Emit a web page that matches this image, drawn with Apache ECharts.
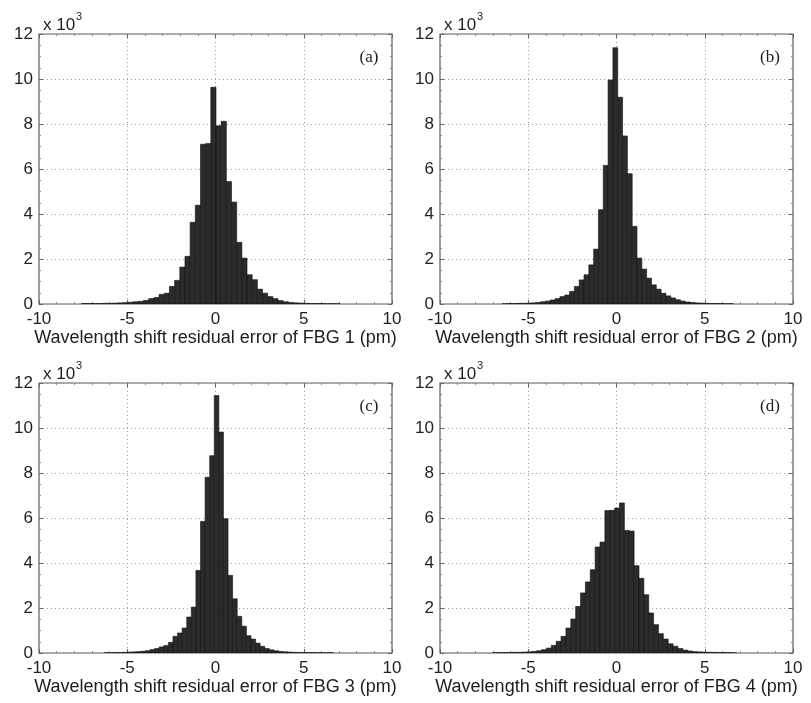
<!DOCTYPE html>
<html>
<head>
<meta charset="utf-8">
<script src="https://cdn.jsdelivr.net/npm/echarts@6/dist/echarts.min.js"></script>
<style>
html, body { margin: 0; padding: 0; background: #fff; }
#main { width: 811px; height: 703px; }
</style>
</head>
<body>
<div id="main"></div>
<script>
// histogram counts, in thousands (the axis reads x 10^3)
var binStartA = -7.59, binWidthA = 0.293;
var countsA = [0.02, 0.02, 0.02, 0.02, 0.03, 0.03, 0.04, 0.05, 0.06, 0.08,
    0.10, 0.12, 0.16, 0.24, 0.29, 0.43, 0.48, 0.78, 1.05, 1.64,
    2.12, 3.63, 4.39, 7.10, 7.13, 9.63, 7.92, 8.12, 5.44, 4.53,
    2.74, 2.04, 1.30, 1.08, 0.66, 0.48, 0.33, 0.24, 0.15, 0.10,
    0.07, 0.05, 0.04, 0.03, 0.02, 0.02, 0.02, 0.01, 0.01, 0.01];

var binStartB = -6.482, binWidthB = 0.273;
var countsB = [0.01, 0.02, 0.02, 0.03, 0.03, 0.04, 0.05, 0.07, 0.10, 0.13,
    0.18, 0.24, 0.33, 0.40, 0.56, 0.78, 1.07, 1.30, 1.74, 2.44,
    4.19, 6.16, 9.96, 11.39, 9.19, 7.47, 5.79, 3.45, 2.04, 1.55,
    1.15, 0.85, 0.66, 0.48, 0.36, 0.27, 0.19, 0.13, 0.09, 0.07,
    0.05, 0.04, 0.03, 0.02, 0.02, 0.02, 0.01, 0.01];

var binStartC = -6.31, binWidthC = 0.26;
var countsC = [0.01, 0.01, 0.02, 0.02, 0.03, 0.04, 0.05, 0.06, 0.08, 0.10,
    0.15, 0.20, 0.27, 0.33, 0.47, 0.74, 0.89, 1.11, 1.60, 2.04,
    3.67, 5.85, 7.81, 8.77, 11.44, 9.82, 5.97, 3.45, 2.41, 1.63,
    1.19, 0.77, 0.62, 0.44, 0.30, 0.20, 0.14, 0.10, 0.07, 0.05,
    0.04, 0.03, 0.02, 0.02, 0.02, 0.02, 0.01, 0.01, 0.01, 0.01];

var binStartD = -7.006, binWidthD = 0.276;
var countsD = [0.01, 0.02, 0.02, 0.02, 0.03, 0.03, 0.04, 0.05, 0.07, 0.10,
    0.15, 0.22, 0.34, 0.52, 0.74, 1.11, 1.51, 2.07, 2.67, 3.16,
    3.70, 4.71, 4.93, 6.33, 6.34, 6.44, 6.67, 5.45, 5.42, 3.88,
    3.32, 2.59, 1.78, 1.26, 0.86, 0.62, 0.41, 0.30, 0.20, 0.13,
    0.09, 0.06, 0.05, 0.04, 0.03, 0.03, 0.02, 0.02, 0.02, 0.01];

var xTicks = [-10, -5, 0, 5, 10];
var yTicks = [0, 2, 4, 6, 8, 10, 12];
var panelTags = ['(a)', '(b)', '(c)', '(d)'];
var xNames = [
    'Wavelength shift residual error of FBG 1 (pm)',
    'Wavelength shift residual error of FBG 2 (pm)',
    'Wavelength shift residual error of FBG 3 (pm)',
    'Wavelength shift residual error of FBG 4 (pm)'
];

var panels = [
    { start: binStartA, width: binWidthA, counts: countsA, left: 39, top: 34 },
    { start: binStartB, width: binWidthB, counts: countsB, left: 440, top: 34 },
    { start: binStartC, width: binWidthC, counts: countsC, left: 39, top: 383 },
    { start: binStartD, width: binWidthD, counts: countsD, left: 440, top: 383 }
];

var sans = '"Liberation Sans", Arial, sans-serif';
var serif = '"Liberation Serif", "Times New Roman", serif';
var textColor = '#1e1e1e';
var plotW = 353, plotH = 270;

function binsOf(p) {
    return p.counts.map(function (c, i) {
        var lo = p.start + i * p.width;
        return [lo, lo + p.width, c];
    });
}

function renderBar(params, api) {
    var top = api.coord([api.value(0), api.value(2)]);
    var base = api.coord([api.value(1), 0]);
    return {
        type: 'rect',
        shape: { x: top[0], y: top[1], width: base[0] - top[0], height: base[1] - top[1] },
        style: { fill: '#2b2b2b', stroke: '#111', lineWidth: 0.6 }
    };
}

var grids = [], xAxes = [], yAxes = [], series = [], texts = [];

panels.forEach(function (p, i) {
    grids.push({
        left: p.left, top: p.top, width: plotW, height: plotH,
        show: true, borderColor: '#5e5e5e', borderWidth: 1.2, backgroundColor: '#fff'
    });

    var tick = { show: true, inside: true, length: 4, lineStyle: { color: '#666' } };
    var minor = { show: true, length: 2, lineStyle: { color: '#888' } };

    xAxes.push({
        gridIndex: i, type: 'value', position: 'bottom',
        min: xTicks[0], max: xTicks[xTicks.length - 1], interval: 5,
        axisLine: { show: false, onZero: false },
        axisTick: tick,
        minorTick: Object.assign({ splitNumber: 5 }, minor),
        axisLabel: { margin: 7, fontSize: 17, fontFamily: sans, color: textColor, showMinLabel: true, showMaxLabel: true },
        splitLine: { show: true, lineStyle: { color: '#9a9a9a', type: [1, 3], width: 1 } },
        name: xNames[i], nameLocation: 'middle', nameGap: 25,
        nameTextStyle: { fontSize: 18, fontFamily: sans, color: textColor }
    });
    yAxes.push({
        gridIndex: i, type: 'value', position: 'left',
        min: yTicks[0], max: yTicks[yTicks.length - 1], interval: 2,
        axisLine: { show: false, onZero: false },
        axisTick: tick,
        minorTick: Object.assign({ splitNumber: 4 }, minor),
        axisLabel: { margin: 6, fontSize: 17, fontFamily: sans, color: textColor, showMinLabel: true, showMaxLabel: true },
        splitLine: { show: true, lineStyle: { color: '#9a9a9a', type: [1, 3], width: 1 } }
    });

    series.push({
        type: 'custom',
        xAxisIndex: i, yAxisIndex: i,
        renderItem: renderBar,
        encode: { x: [0, 1], y: 2 },
        data: binsOf(p),
        clip: true,
        silent: true
    });

    texts.push({
        type: 'text', x: p.left + 4, y: p.top - 9,
        style: { text: 'x 10', font: '17px ' + sans, fill: textColor, textVerticalAlign: 'middle', verticalAlign: 'middle' }
    });
    texts.push({
        type: 'text', x: p.left + 37, y: p.top - 17,
        style: { text: '3', font: '11px ' + sans, fill: textColor, textVerticalAlign: 'middle', verticalAlign: 'middle' }
    });
    texts.push({
        type: 'text', x: p.left + 330, y: p.top + 24,
        style: { text: panelTags[i], font: '17px ' + serif, fill: textColor, textAlign: 'center', align: 'center', textVerticalAlign: 'middle', verticalAlign: 'middle' }
    });
});

// ticks on the top and right edges of every frame, as in the original plots
panels.forEach(function (p, i) {
    xAxes.push({
        gridIndex: i, type: 'value', position: 'top', min: -10, max: 10, interval: 5,
        axisLine: { show: false, onZero: false }, axisLabel: { show: false }, splitLine: { show: false },
        axisTick: { show: true, inside: true, length: 4, lineStyle: { color: '#666' } },
        minorTick: { show: true, splitNumber: 5, length: 2, lineStyle: { color: '#888' } }
    });
    yAxes.push({
        gridIndex: i, type: 'value', position: 'right', min: 0, max: 12, interval: 2,
        axisLine: { show: false, onZero: false }, axisLabel: { show: false }, splitLine: { show: false },
        axisTick: { show: true, inside: true, length: 4, lineStyle: { color: '#666' } },
        minorTick: { show: true, splitNumber: 4, length: 2, lineStyle: { color: '#888' } }
    });
});

var myChart = echarts.init(document.getElementById('main'));
var option = {
    backgroundColor: '#fff',
    animation: false,
    grid: grids,
    xAxis: xAxes,
    yAxis: yAxes,
    series: series,
    graphic: texts
};
myChart.setOption(option);
</script>
</body>
</html>
